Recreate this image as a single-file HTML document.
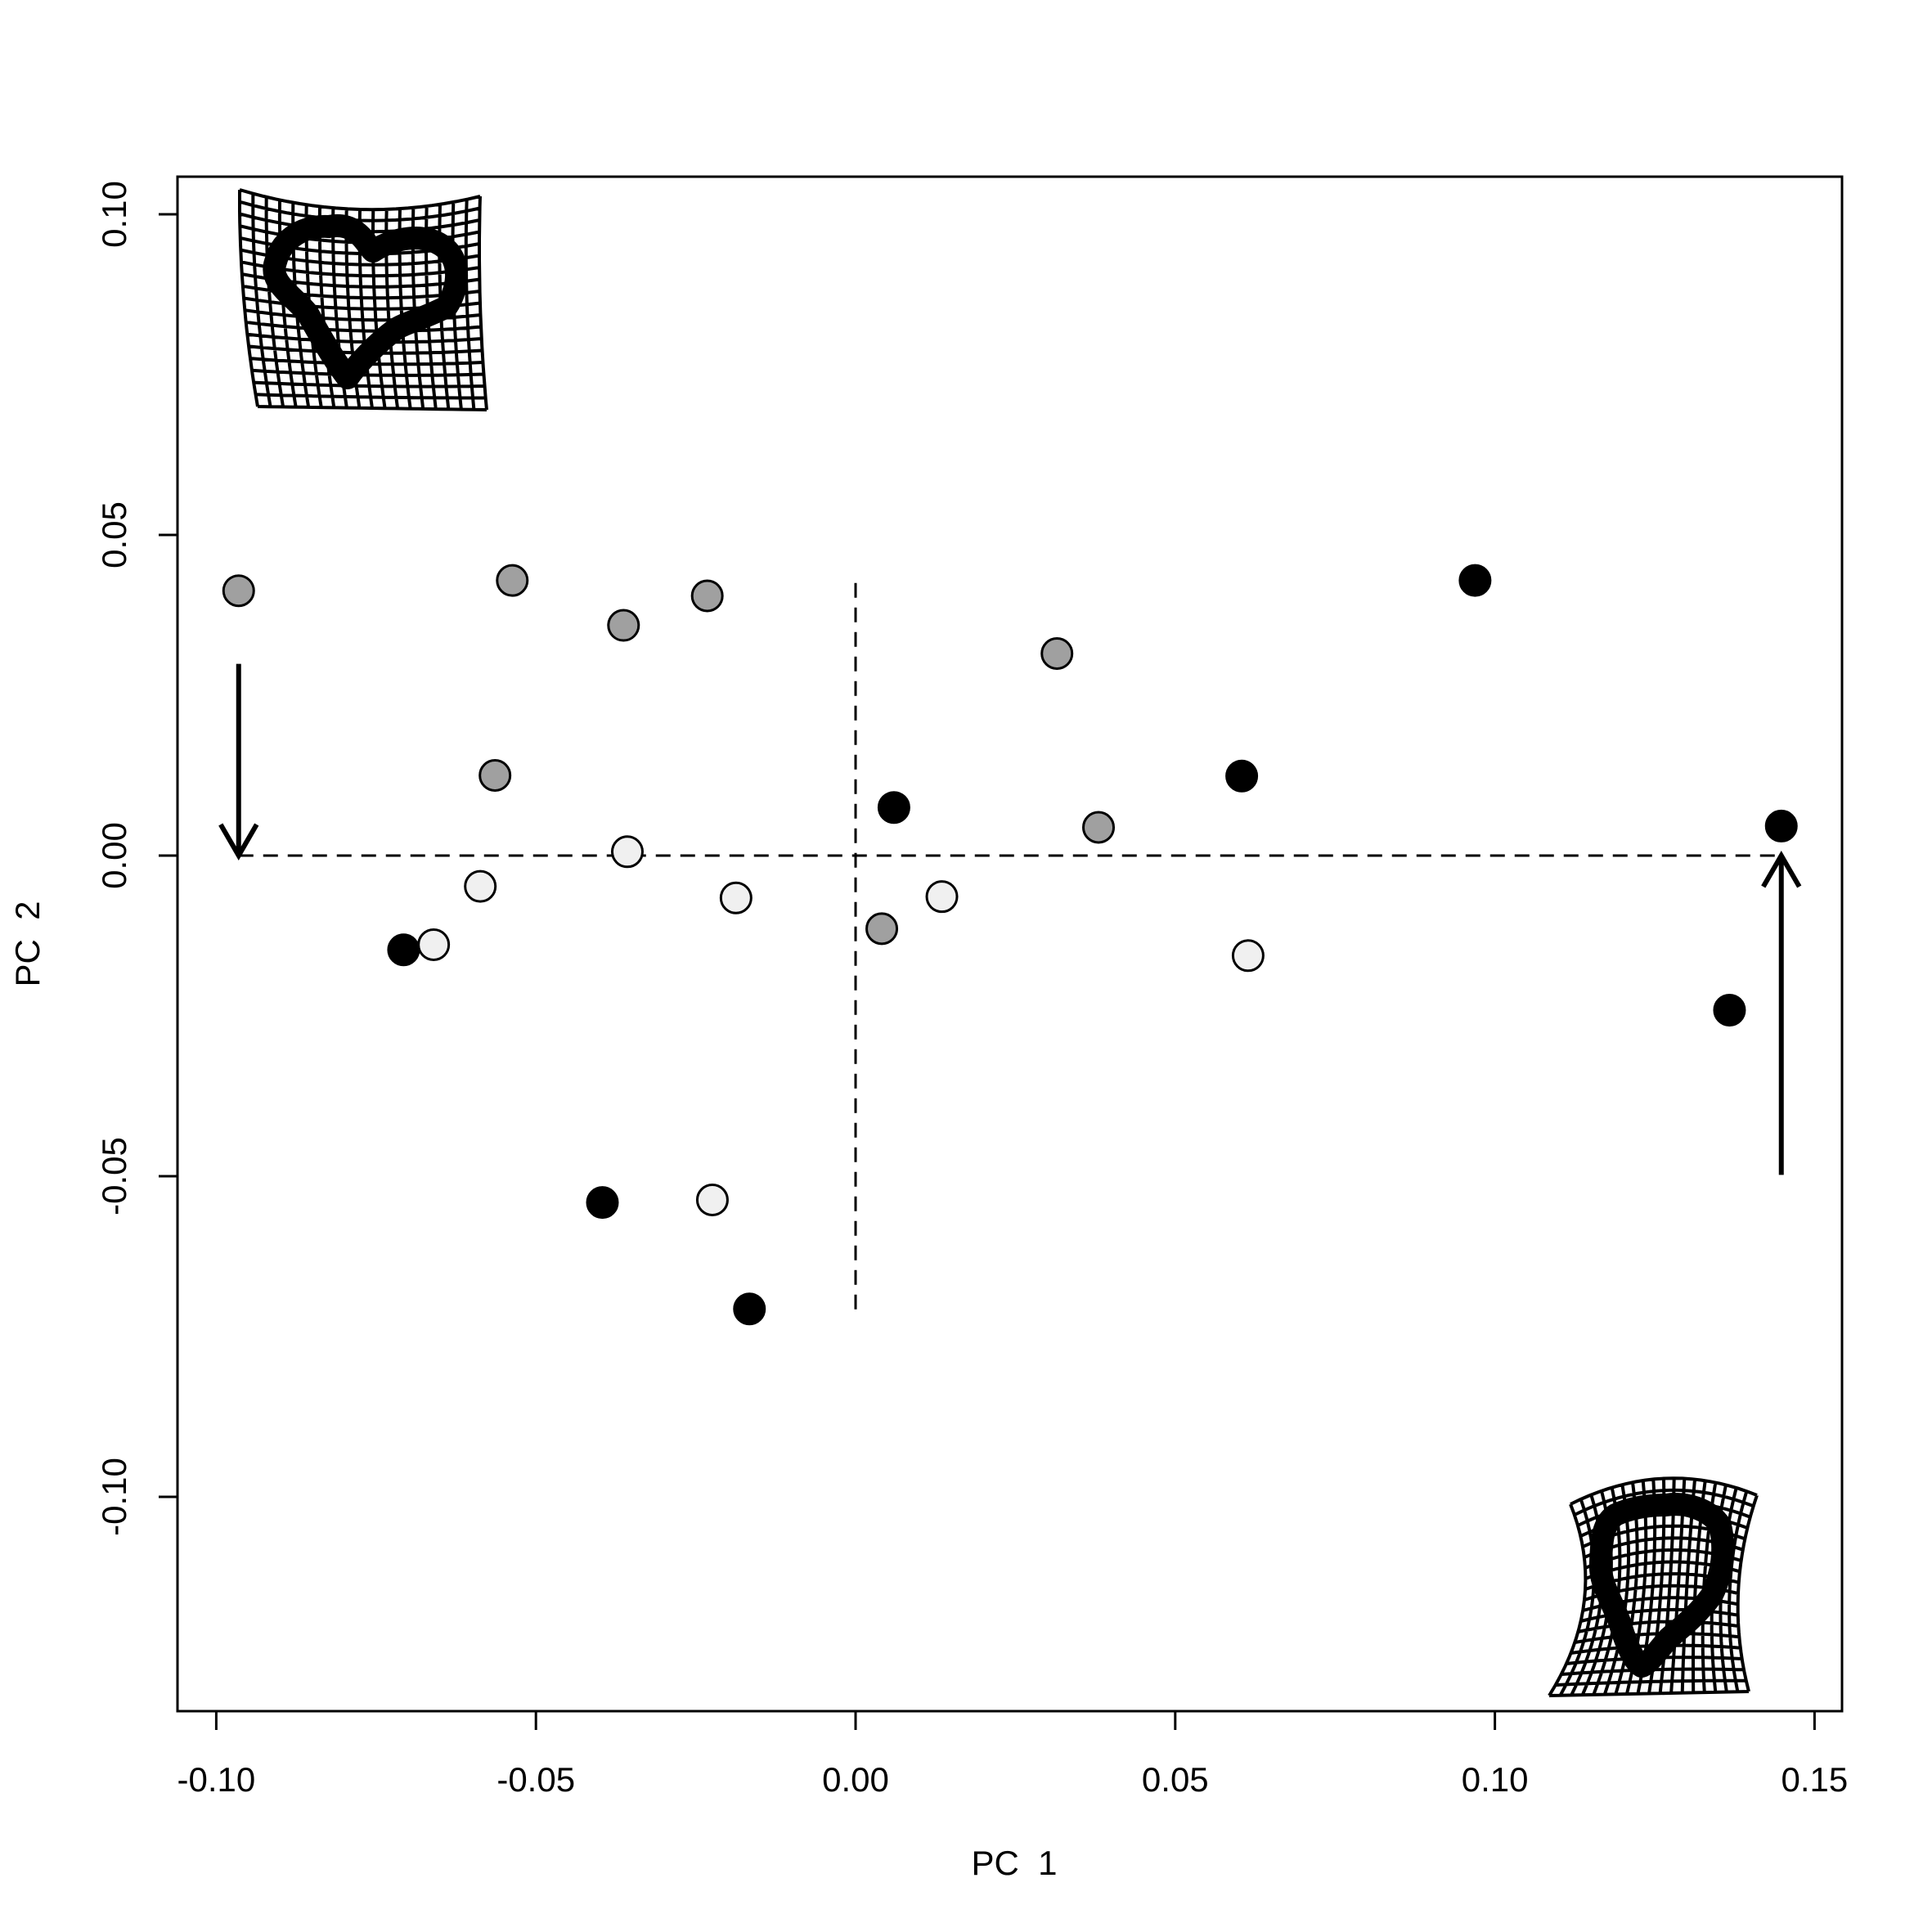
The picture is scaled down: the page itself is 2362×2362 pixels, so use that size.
<!DOCTYPE html>
<html><head><meta charset="utf-8"><style>
html,body{margin:0;padding:0;background:#fff;}
svg{display:block;font-family:"Liberation Sans",Arial,sans-serif;}
text{white-space:pre;}
</style></head><body>
<svg id="chart" width="2362" height="2362" viewBox="0 0 2362 2362">
<rect x="0" y="0" width="2362" height="2362" fill="#fff"/>
<g id="grids"></g>
<g id="axes"></g>
<g id="marks"></g>
<rect x="217" y="216" width="2035" height="1876" fill="none" stroke="#000" stroke-width="3"/>
<text x="1240" y="2292" font-size="42" text-anchor="middle">PC  1</text>
<text x="0" y="0" font-size="42" text-anchor="middle" transform="translate(48,1154) rotate(-90)">PC  2</text>
</svg>
<script>
const xTicks=[-0.10,-0.05,0.00,0.05,0.10,0.15];
const xTickLabels=["-0.10","-0.05","0.00","0.05","0.10","0.15"];
const yTicks=[-0.10,-0.05,0.00,0.05,0.10];
const yTickLabels=["-0.10","-0.05","0.00","0.05","0.10"];
const greyX=[-0.0965,-0.0537,-0.0363,-0.0232,0.0315,-0.0564,0.0380,0.0041];
const greyY=[0.0413,0.0429,0.0359,0.0405,0.0315,0.0125,0.0044,-0.0114];
const lightX=[-0.0357,-0.0587,-0.0187,0.0135,-0.0660,0.0614,-0.0224];
const lightY=[0.0006,-0.0048,-0.0066,-0.0064,-0.0139,-0.0156,-0.0537];
const blackX=[0.0969,0.0604,0.0060,0.1448,-0.0707,0.1367,-0.0396,-0.0166];
const blackY=[0.0429,0.0124,0.0075,0.0046,-0.0147,-0.0241,-0.0541,-0.0707];
const hLineX=[-0.0965,0.1448];
const vLineY=[0.0425,-0.0709];
const arrowLeftY=[0.0299,0.0];
const arrowRightY=[-0.0498,0.0];

const NS="http://www.w3.org/2000/svg";
const sx=v=>1046+v*7816;
const sy=v=>1046-v*7840;
function mk(tag,attrs,parent){const e=document.createElementNS(NS,tag);for(const k in attrs)e.setAttribute(k,attrs[k]);parent.appendChild(e);return e;}
const axes=document.getElementById('axes'),marks=document.getElementById('marks'),grids=document.getElementById('grids');

let xl=mk('line',{x1:sx(xTicks[0]),x2:sx(xTicks[xTicks.length-1]),y1:2092,y2:2092,stroke:'#000','stroke-width':3},axes);


xTicks.forEach((t,i)=>{
 const l=mk('line',{x1:sx(t),x2:sx(t),y1:2092,y2:2115,stroke:'#000','stroke-width':3},axes);
 
 
 const tx=mk('text',{x:sx(t),y:2190,'font-size':42,'text-anchor':'middle'},axes);tx.textContent=xTickLabels[i];
 
 
});
let yl=mk('line',{x1:217,x2:217,y1:sy(yTicks[0]),y2:sy(yTicks[yTicks.length-1]),stroke:'#000','stroke-width':3},axes);


yTicks.forEach((t,i)=>{
 const l=mk('line',{x1:194,x2:217,y1:sy(t),y2:sy(t),stroke:'#000','stroke-width':3},axes);
 
 
 const tx=mk('text',{x:0,y:0,'font-size':42,'text-anchor':'middle',transform:`translate(154,${sy(t)}) rotate(-90)`},axes);tx.textContent=yTickLabels[i];
 
 
});

let hl=mk('line',{x1:sx(hLineX[0]),x2:sx(hLineX[1]),y1:sy(0),y2:sy(0),stroke:'#000','stroke-width':3,'stroke-dasharray':'18,12'},marks);


let vl=mk('line',{x1:sx(0),x2:sx(0),y1:sy(vLineY[0]),y2:sy(vLineY[1]),stroke:'#000','stroke-width':3,'stroke-dasharray':'18,12'},marks);


function arrow(x,y0,y1,name){
 const X=sx(x),Y0=sy(y0),Y1=sy(y1),d=Y1>Y0?-1:1;
 const p=mk('path',{d:`M${X},${Y0}L${X},${Y1}M${X-22},${Y1+d*38}L${X},${Y1}L${X+22},${Y1+d*38}`,stroke:'#000','stroke-width':6,fill:'none'},marks);
 
 
}
arrow(hLineX[0],arrowLeftY[0],arrowLeftY[1],'arrow-left');
arrow(hLineX[1],arrowRightY[0],arrowRightY[1],'arrow-right');

function pts(xs,ys,fill,name){
 xs.forEach((x,i)=>{
  const c=mk('circle',{cx:sx(x),cy:sy(ys[i]),r:18.5,fill:fill,stroke:'#000','stroke-width':3},marks);
  
  
 });
}
pts(greyX,greyY,'#a0a0a0','point-grey');
pts(lightX,lightY,'#f0f0f0','point-light');
pts(blackX,blackY,'#000','point-black');

function grid(TL,TR,BL,BR,bT,bB,bL,bR,nc,nr,name){
 const g=mk('g',{},grids);
 
 
 const P=(u,v)=>{
  let x=(1-u)*(1-v)*TL[0]+u*(1-v)*TR[0]+(1-u)*v*BL[0]+u*v*BR[0];
  let y=(1-u)*(1-v)*TL[1]+u*(1-v)*TR[1]+(1-u)*v*BL[1]+u*v*BR[1];
  const bu=4*u*(1-u),bv=4*v*(1-v);
  x+=(1-u)*bv*bL+u*bv*bR; y+=(1-v)*bu*bT+v*bu*bB;
  return [x,y];
 };
 let d='';
 for(let i=0;i<=nc;i++){const u=i/nc;for(let k=0;k<=20;k++){const p=P(u,k/20);d+=(k?'L':'M')+p[0].toFixed(1)+','+p[1].toFixed(1);}}
 for(let j=0;j<=nr;j++){const v=j/nr;for(let k=0;k<=20;k++){const p=P(k/20,v);d+=(k?'L':'M')+p[0].toFixed(1)+','+p[1].toFixed(1);}}
 mk('path',{d:d,stroke:'#000','stroke-width':4,fill:'none'},g);
 return g;
}
const g1=grid([293,232],[587,240],[315,497],[595,501],20,0,-6,-4,18,18,'grid-top-left');
const h1=mk('path',{d:'M402,277C437,270 448,300 456,307C483,290 517,285 540,300C569,320 557,360 546,375C517,390 494,395 483,403C460,420 437,445 425,462C408,440 391,410 376,383C357,360 328,345 337,320C345,290 374,275 402,277Z',stroke:'#000','stroke-width':28,fill:'none','stroke-linejoin':'round'},g1);


const g2=grid([1920,1839],[2148,1828],[1894,2073],[2138,2068],-26,0,30,-18,18,18,'grid-bottom-right');
const h2=mk('path',{d:'M2037,1840C2060,1836 2090,1845 2103,1865C2110,1895 2105,1925 2093,1950C2075,1975 2055,1990 2040,2003C2025,2020 2015,2035 2007,2037C1995,2030 1985,2000 1980,1983C1970,1955 1955,1935 1957,1910C1958,1880 1960,1862 1975,1852C1995,1843 2015,1840 2037,1840Z',stroke:'#000','stroke-width':28,fill:'none','stroke-linejoin':'round'},g2);


</script>
</body></html>
